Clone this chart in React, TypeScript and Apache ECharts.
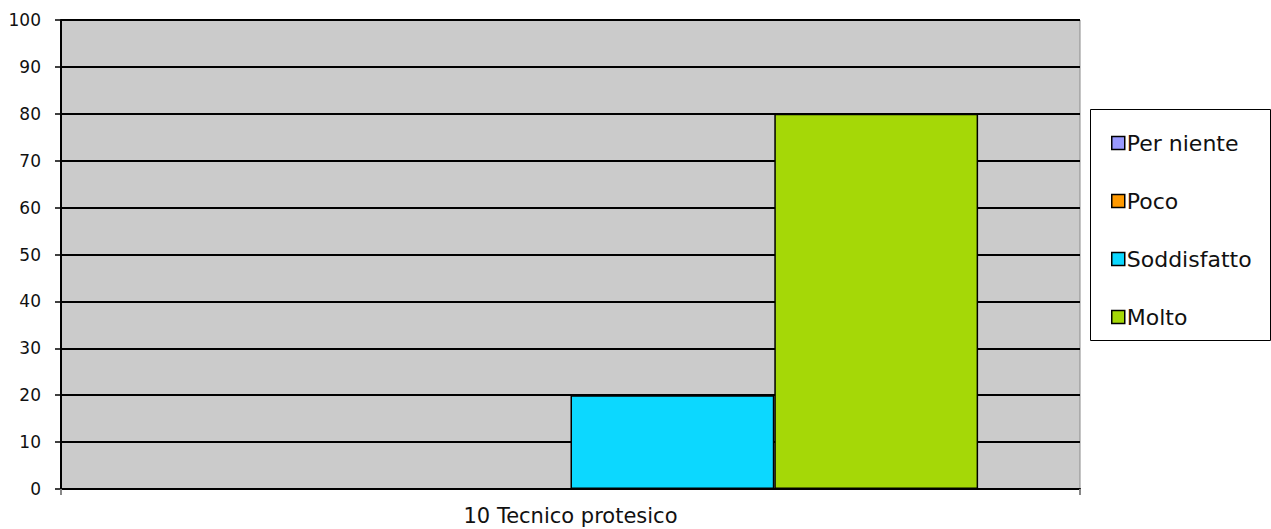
import React, { useEffect, useRef } from "react";
import * as echarts from "echarts";

const categories = ["10 Tecnico protesico"];
const seriesNames = ["Per niente", "Poco", "Soddisfatto", "Molto"];
const perNiente = [0];
const poco = [0];
const soddisfatto = [20];
const molto = [80];
const colors = ["#9999FF", "#FF9900", "#0CD8FF", "#A5D807"];
const yMin = 0;
const yMax = 100;
const yInterval = 10;

export default function App() {
  const ref = useRef<HTMLDivElement>(null);
  useEffect(() => {
    if (!ref.current) return;
    const chart = echarts.init(ref.current, undefined, { renderer: "svg" });
    const values = [perNiente, poco, soddisfatto, molto];
    const font = "DejaVu Sans, Verdana, sans-serif";
    chart.setOption({
      animation: false,
      textStyle: { fontFamily: font },
      grid: {
        left: 61,
        right: 191,
        top: 20,
        bottom: 40,
        show: true,
        backgroundColor: "#CBCBCB",
        borderColor: "#8A8A8A",
        borderWidth: 1,
      },
      xAxis: {
        type: "category",
        data: categories,
        axisLine: { show: true, lineStyle: { color: "#000", width: 2 } },
        axisTick: { show: true, length: 6, lineStyle: { color: "#888", width: 2 } },
        axisLabel: { fontSize: 21, lineHeight: 21, color: "#111", margin: 16, fontFamily: font },
      },
      yAxis: {
        type: "value",
        min: yMin,
        max: yMax,
        interval: yInterval,
        axisLine: { show: true, lineStyle: { color: "#000", width: 2 } },
        axisTick: { show: true, length: 6, lineStyle: { color: "#000", width: 1.5 } },
        axisLabel: { fontSize: 17, color: "#111", margin: 20, fontFamily: font },
        splitLine: { show: true, lineStyle: { color: "#000", width: 2 } },
      },
      legend: {
        orient: "vertical",
        left: 1106,
        top: 127,
        itemGap: 36,
        itemWidth: 13,
        itemHeight: 13,
        icon: "rect",
        data: seriesNames,
        itemStyle: { borderColor: "#000", borderWidth: 1.5 },
        textStyle: { fontSize: 22, lineHeight: 22, color: "#111", fontFamily: font, padding: [0, 0, 0, -3] },
      },
      graphic: [
        {
          type: "rect",
          left: 1090,
          top: 109,
          shape: { width: 180, height: 231 },
          style: { fill: "#fff", stroke: "#000", lineWidth: 1 },
          z: -1,
        },
      ],
      series: seriesNames.map((name, i) => ({
        name,
        type: "bar",
        data: values[i],
        barGap: "0%",
        barCategoryGap: "20%",
        itemStyle: { color: colors[i], borderColor: "#000", borderWidth: 1.5 },
      })),
    });
    return () => chart.dispose();
  }, []);
  return (
    <div
      ref={ref}
      style={{ position: "fixed", left: 0, top: 0, width: 1271, height: 529, background: "#fff" }}
    />
  );
}
